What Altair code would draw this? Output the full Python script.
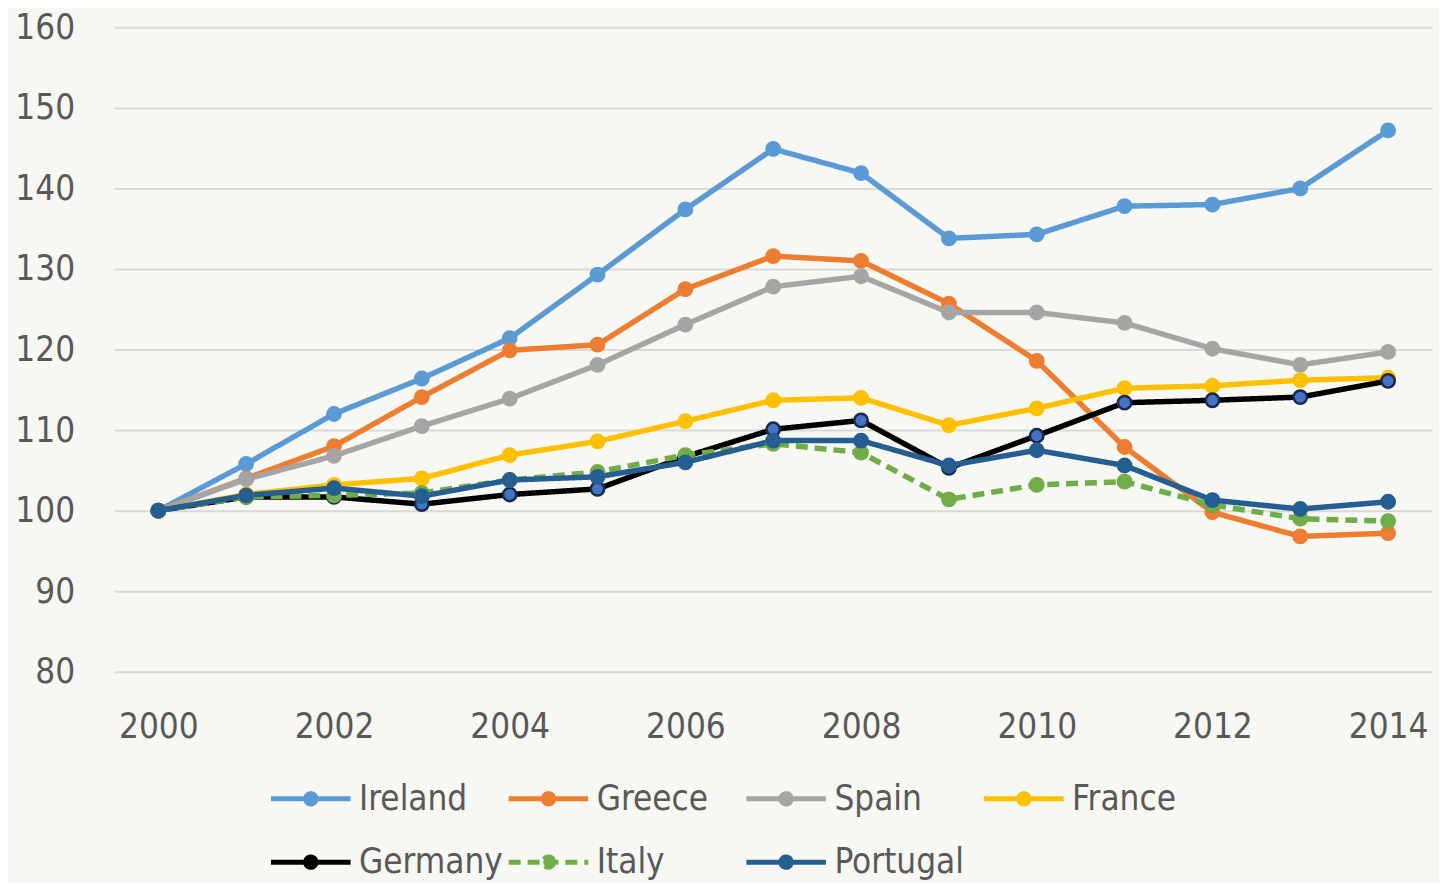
import altair as alt
import pandas as pd

years = list(range(2000, 2015))
countries = ["Ireland", "Greece", "Spain", "France", "Germany", "Italy", "Portugal"]
ireland = [100, 105.8, 112.0, 116.4, 121.4, 129.3, 137.4, 144.9, 141.9, 133.8, 134.3, 137.8, 138.0, 140.0, 147.2]
greece = [100, 104.0, 108.0, 114.1, 119.9, 120.6, 127.5, 131.6, 131.0, 125.7, 118.6, 107.9, 99.8, 96.8, 97.2]
spain = [100, 103.9, 106.8, 110.5, 113.9, 118.1, 123.1, 127.8, 129.1, 124.6, 124.6, 123.3, 120.1, 118.1, 119.7]
france = [100, 102.0, 103.2, 104.0, 106.9, 108.6, 111.1, 113.7, 114.0, 110.6, 112.7, 115.2, 115.5, 116.2, 116.5]
germany = [100, 101.7, 101.7, 100.8, 102.0, 102.7, 106.7, 110.1, 111.2, 105.3, 109.3, 113.4, 113.7, 114.1, 116.1]
italy = [100, 101.7, 101.9, 102.2, 103.8, 104.8, 106.9, 108.3, 107.2, 101.4, 103.2, 103.6, 100.7, 99.0, 98.7]
portugal = [100, 101.9, 102.8, 101.8, 103.8, 104.2, 106.0, 108.7, 108.7, 105.6, 107.5, 105.6, 101.3, 100.2, 101.1]

line_colors = ["#5b9bd5", "#ed7d31", "#a5a5a5", "#ffc000", "#000000", "#70ad47", "#255e91"]
point_fills = ["#5b9bd5", "#ed7d31", "#a5a5a5", "#ffc000", "#4472c4", "#70ad47", "#255e91"]
point_strokes = ["#5b9bd5", "#ed7d31", "#a5a5a5", "#ffc000", "#1a2a4a", "#70ad47", "#255e91"]
dashes = [[1, 0], [1, 0], [1, 0], [1, 0], [1, 0], [12, 7], [1, 0]]
x_ticks = [2000, 2002, 2004, 2006, 2008, 2010, 2012, 2014]
y_ticks = [80, 90, 100, 110, 120, 130, 140, 150, 160]

series = [ireland, greece, spain, france, germany, italy, portugal]
rows = []
for name, vals in zip(countries, series):
    for yr, v in zip(years, vals):
        rows.append({"year": yr, "value": v, "country": name})
df = pd.DataFrame(rows)

FONT = "DejaVu Sans Condensed, Liberation Sans Narrow, DejaVu Sans"
TXT = "#595959"

sym_path = "M-1,0H1M0.13,0A0.13,0.13,0,1,1,-0.13,0A0.13,0.13,0,1,1,0.13,0Z"

legend = alt.Legend(
    title=None, orient="none", legendX=155, legendY=733, columns=4, direction="horizontal",
    gridAlign="all", symbolType=sym_path, symbolSize=6400, symbolStrokeWidth=5,
    labelFont=FONT, labelFontSize=35, labelColor=TXT, labelOffset=6,
    columnPadding=-5, rowPadding=3, symbolLimit=0,
)

x_enc = alt.X("year:Q", scale=alt.Scale(domain=[1999.5, 2014.5], nice=False, zero=False),
              axis=alt.Axis(values=x_ticks, format="d", title=None, grid=False, ticks=False,
                            domain=False, labelFont=FONT, labelFontSize=35, labelColor=TXT,
                            labelPadding=38))
y_enc = alt.Y("value:Q", scale=alt.Scale(domain=[80, 160], nice=False, zero=False),
              axis=alt.Axis(values=y_ticks, title=None, ticks=False, domain=False,
                            gridColor="#d9d9d9", gridWidth=2, labelFont=FONT,
                            labelFontSize=35, labelColor=TXT, labelPadding=40))

color = alt.Color("country:N", scale=alt.Scale(domain=countries, range=line_colors), legend=legend,
                  sort=countries)
dash = alt.StrokeDash("country:N", scale=alt.Scale(domain=countries, range=dashes), legend=legend,
                      sort=countries)

lines = alt.Chart(df).mark_line(strokeWidth=5.5).encode(
    x=x_enc, y=y_enc, color=color, strokeDash=dash, order="year:Q"
)
points = alt.Chart(df).mark_point(filled=True, size=180, strokeWidth=2.5, opacity=1).encode(
    x=x_enc, y=y_enc,
    fill=alt.Fill("country:N", scale=alt.Scale(domain=countries, range=point_fills), legend=None),
    stroke=alt.Stroke("country:N", scale=alt.Scale(domain=countries, range=point_strokes), legend=None),
)

chart = alt.layer(lines, points).properties(
    width=1325, height=648,
    autosize=alt.AutoSizeParams(type="none"),
    padding={"left": 107, "top": 17, "right": 7, "bottom": 210},
    background="#f7f7f3",
).configure_view(stroke=None)

chart.save("out.html", embed_options={"renderer": "svg", "actions": False})
